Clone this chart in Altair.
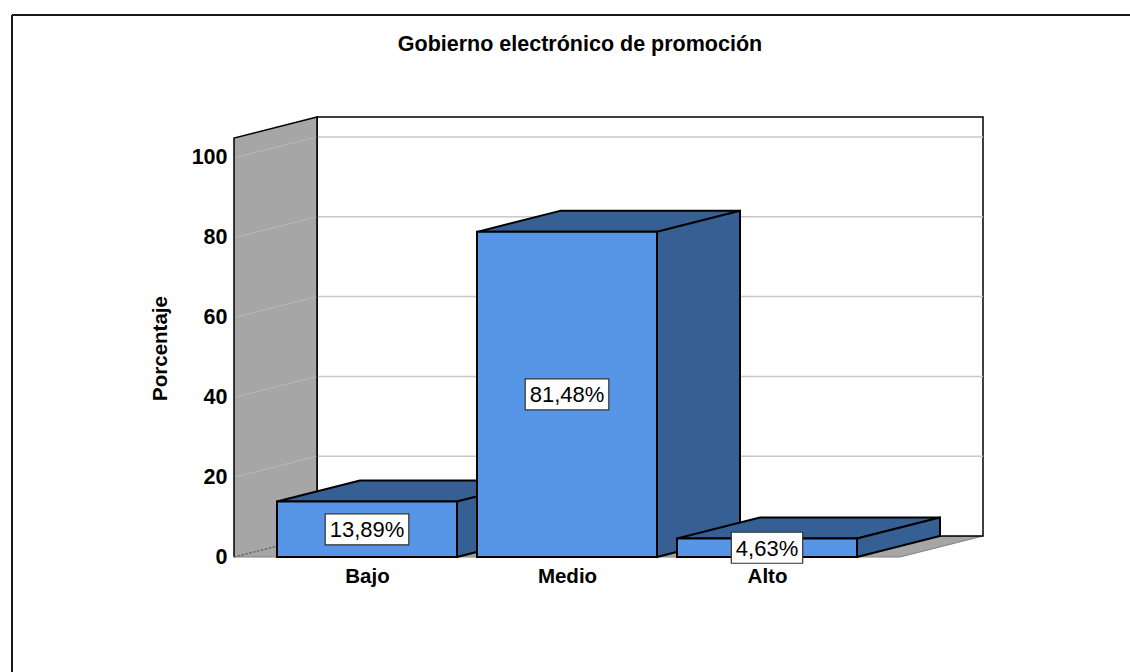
import altair as alt
import pandas as pd

# ---------------- data ----------------
categories = ["Bajo", "Medio", "Alto"]
percentages = [13.89, 81.48, 4.63]
value_labels = ["13,89%", "81,48%", "4,63%"]
y_ticks = [0, 20, 40, 60, 80, 100]
title_text = "Gobierno electrónico de promoción"
y_title = "Porcentaje"

# ---------------- geometry (data units) ----------------
HALF = 0.45          # half bar width (category spacing = 1)
DX = 0.415           # 3D depth offset along x
DY = 5.26            # 3D depth offset along y
X0 = -0.665          # front-left edge of the box
X1 = len(categories) - 1 + 0.665
WALL_TOP = 105
XMAX = X1 + DX
YMAX = WALL_TOP + DY

W, H = 749, 440
PAD = {"left": 234, "top": 117, "right": 147, "bottom": 115}
XPX = W / (XMAX - X0)
YPX = H / YMAX

FRONT = "#5796e6"
SIDE = "#365f93"
WALL = "#a6a6a6"
GRID = "#c8c8c8"
FONT = "Liberation Sans"
LAB_SIZE = 22

xs = alt.Scale(domain=[X0, XMAX], nice=False, zero=False)
ys = alt.Scale(domain=[0, YMAX], nice=False, zero=False)

label_expr = "[" + ",".join("'%s'" % c for c in categories) + "][datum.value]"

x_axis = alt.Axis(values=list(range(len(categories))), labelExpr=label_expr, grid=False,
                  ticks=False, domain=False, labelPadding=9, labelFontSize=20.5,
                  labelFont=FONT, labelFontWeight="bold", labelColor="black",
                  labelOverlap=False, labelFlush=False, title="")
y_axis = alt.Axis(values=y_ticks, grid=False, ticks=False, domain=False, labelPadding=7,
                  labelFontSize=21.5, labelFont=FONT, labelFontWeight="bold",
                  labelColor="black", title=y_title, titleFont=FONT, titleFontSize=20.5,
                  titleFontWeight="bold", titleColor="black", titleAngle=270,
                  titleAlign="center", titleBaseline="middle",
                  titleX=160 - PAD["left"], titleY=348 - PAD["top"])


def X(f):
    return alt.X(f, type="quantitative", scale=xs, axis=x_axis)


def Y(f):
    return alt.Y(f, type="quantitative", scale=ys, axis=y_axis)


layers = []

# floor
floor_df = pd.DataFrame({"y": [0, DY], "xlo": [X0, X0 + DX], "xhi": [X1, X1 + DX]})
layers.append(alt.Chart(floor_df).mark_area(orient="horizontal", fill=WALL, stroke="#808080",
                                            strokeWidth=1).encode(
    y=Y("y"), x=X("xlo"), x2=alt.X2("xhi")))

# back wall
back_df = pd.DataFrame({"x": [X0 + DX], "x2": [XMAX], "y": [DY], "y2": [YMAX]})
layers.append(alt.Chart(back_df).mark_rect(fill="white", stroke="black", strokeWidth=1.5).encode(
    x=X("x"), x2="x2", y=Y("y"), y2="y2"))

# left wall
wall_df = pd.DataFrame({"x": [X0, X0 + DX], "lo": [0, DY], "hi": [WALL_TOP, WALL_TOP + DY]})
layers.append(alt.Chart(wall_df).mark_area(fill=WALL, strokeWidth=0).encode(
    x=X("x"), y=Y("lo"), y2="hi"))

# back-wall gridlines
grid_vals = [v for v in y_ticks if v > 0]
gb_df = pd.DataFrame({"x": [X0 + DX] * len(grid_vals), "x2": [XMAX] * len(grid_vals),
                      "y": [v + DY for v in grid_vals]})
layers.append(alt.Chart(gb_df).mark_rule(color=GRID, strokeWidth=1.5).encode(
    x=X("x"), x2="x2", y=Y("y")))

# left-wall gridlines
gl_df = pd.DataFrame({"x": [X0] * len(grid_vals), "x2": [X0 + DX] * len(grid_vals),
                      "y": grid_vals, "y2": [v + DY for v in grid_vals]})
layers.append(alt.Chart(gl_df).mark_rule(color="#b9b9b9", strokeWidth=1).encode(
    x=X("x"), x2="x2", y=Y("y"), y2="y2"))

# wall outline
wo_df = pd.DataFrame({"x": [X0, X0, X0 + DX, X0 + DX],
                      "y": [0, WALL_TOP, WALL_TOP + DY, DY], "o": [0, 1, 2, 3]})
layers.append(alt.Chart(wo_df).mark_line(color="black", strokeWidth=1.5).encode(
    x=X("x"), y=Y("y"), order="o:Q"))
wd_df = pd.DataFrame({"x": [X0, X0 + DX], "y": [0, DY]})
layers.append(alt.Chart(wd_df).mark_line(color="#666666", strokeWidth=1.5,
                                         strokeDash=[2, 2]).encode(x=X("x"), y=Y("y")))

# bars
char_w = {",": 0.278, "%": 0.889}
for i, (v, lab) in enumerate(zip(percentages, value_labels)):
    c = i
    top_df = pd.DataFrame({"y": [v, v + DY], "xlo": [c - HALF, c - HALF + DX],
                           "xhi": [c + HALF, c + HALF + DX]})
    layers.append(alt.Chart(top_df).mark_area(orient="horizontal", fill=SIDE, stroke="black",
                                              strokeWidth=2, strokeJoin="miter").encode(
        y=Y("y"), x=X("xlo"), x2=alt.X2("xhi")))
    side_df = pd.DataFrame({"x": [c + HALF, c + HALF + DX], "lo": [0, DY], "hi": [v, v + DY]})
    layers.append(alt.Chart(side_df).mark_area(fill=SIDE, stroke="black", strokeWidth=2,
                                               strokeJoin="miter").encode(
        x=X("x"), y=Y("lo"), y2="hi"))
    front_df = pd.DataFrame({"x": [c - HALF], "x2": [c + HALF], "y": [0], "y2": [v]})
    layers.append(alt.Chart(front_df).mark_rect(fill=FRONT, stroke="black", strokeWidth=2).encode(
        x=X("x"), x2="x2", y=Y("y"), y2="y2"))

for i, (v, lab) in enumerate(zip(percentages, value_labels)):
    tw = sum(char_w.get(ch, 0.556) for ch in lab) * LAB_SIZE
    hw = (tw / 2 + 4.5) / XPX
    hh = 15.5 / YPX
    box_df = pd.DataFrame({"x": [i - hw], "x2": [i + hw], "y": [v / 2 - hh], "y2": [v / 2 + hh]})
    layers.append(alt.Chart(box_df).mark_rect(fill="white", stroke="#333333",
                                              strokeWidth=1.2).encode(
        x=X("x"), x2="x2", y=Y("y"), y2="y2"))
    txt_df = pd.DataFrame({"x": [i], "y": [v / 2], "t": [lab]})
    layers.append(alt.Chart(txt_df).mark_text(font=FONT, fontSize=LAB_SIZE, color="black",
                                              align="center", baseline="middle", dy=1).encode(
        x=X("x"), y=Y("y"), text="t:N"))

# outer frame
one = pd.DataFrame({"a": [0]})
layers.append(alt.Chart(one).mark_rule(color="#1a1a1a", strokeWidth=2).encode(
    x=alt.value(12 - PAD["left"]), y=alt.value(15 - PAD["top"]),
    y2=alt.value(700 - PAD["top"])))
layers.append(alt.Chart(one).mark_rule(color="#1a1a1a", strokeWidth=2).encode(
    x=alt.value(12 - PAD["left"]), x2=alt.value(1140 - PAD["left"]),
    y=alt.value(15 - PAD["top"])))

chart = alt.layer(*layers).properties(
    width=W, height=H, padding=PAD, autosize="none",
    title=alt.TitleParams(title_text, font=FONT, fontSize=21.5, fontWeight="bold", color="black",
                          anchor="middle", frame="group", baseline="alphabetic",
                          offset=0, dy=58, dx=580 - (PAD["left"] + W / 2)),
    background="white",
).configure_view(stroke=None)

chart.save("out.html", embed_options={"renderer": "svg", "actions": False})
